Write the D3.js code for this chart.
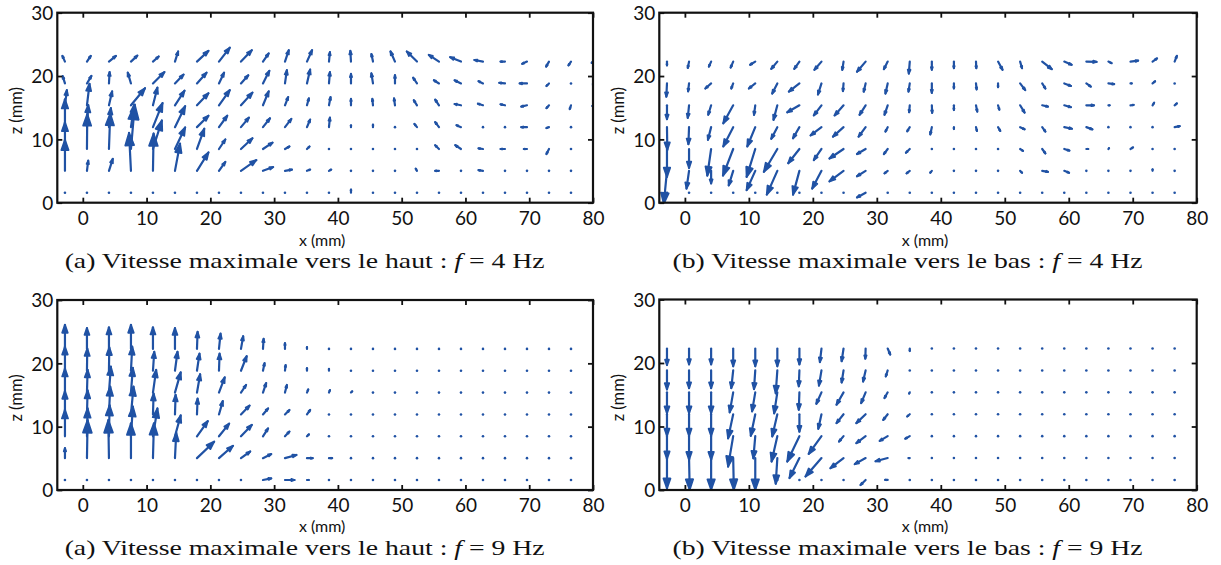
<!DOCTYPE html>
<html><head><meta charset="utf-8">
<script src="https://cdn.jsdelivr.net/npm/d3@7"></script>
<style>body{margin:0;background:#fff}svg{display:block}</style>
</head><body>
<svg id="c" width="1221" height="565"></svg>
<script>
// grid of measurement points (mm)
const xGrid = [-2.8,0.65,4.1,7.55,11.0,14.45,17.9,21.35,24.8,28.25,31.7,35.15,38.6,42.05,45.5,48.95,52.4,55.85,59.3,62.75,66.2,69.65,73.1,76.55,80.0];
const zGrid = [1.58,5.03,8.48,11.93,15.38,18.83,22.28];
const xTicks = [0,10,20,30,40,50,60,70,80];
const zTicks = [0,10,20,30];
const N = null;

// Panel 1 : vers le haut, f = 4 Hz (rows from bottom to top)
const p1U = [
[0,0,0,0,0,0,0,0,0,0,0,0,0,0,0,0,0,0,0,0,0,0,0,0,N],
[0,0.2,0.6,-0.3,0.1,0.8,1.8,1.0,2.4,1.6,1.1,0.5,0.35,0,0,0,-0.2,-0.6,0,-0.7,0,0,0,0,N],
[0,0.05,0.2,0.6,1.4,1.6,1.15,1.0,1.8,1.5,0.7,0.4,0,0,0,0,0,-0.6,-0.9,-0.7,-0.7,-0.5,-0.4,0,N],
[0,0.2,0.3,0.5,1.5,1.6,1.8,1.3,1.25,1.1,1.0,0.5,0.15,0,0,0,-0.4,-0.6,-0.7,0,0,-0.9,-0.4,0,N],
[0.3,0.4,0.5,2.2,0.7,1.5,1.8,1.7,1.8,0.9,0.5,0.3,0.25,0,-0.1,-0.15,-0.5,-0.6,-1.0,-0.8,-0.7,-0.9,-0.4,-0.2,-0.1],
[-0.35,0.7,0.1,-0.5,1.8,1.35,1.5,0.8,1.15,1.0,0.3,0.5,0.15,0,-0.25,0,-0.6,-0.8,-1.0,-0.7,-0.9,-1.15,-0.4,0,0],
[-0.4,0.6,1.1,1.0,0.9,0.5,1.8,1.7,1.7,0.9,0.6,0.8,0.15,-0.1,-0.25,-0.7,-1.6,-1.6,-1.7,-1.35,-0.7,-0.75,-0.45,-0.4,-0.2]];
const p1W = [
[0,0,0,0,0,0,0,0,0,0,0,0,0,0.5,0,0,0,0,0,0,0,0,0,0,N],
[4.9,1.6,1.9,6.0,5.9,4.3,2.9,1.4,1.7,0.6,0.2,0.2,0.2,0.1,0,0,0.35,0,0,0.1,0,0,0,0,N],
[4.2,5.5,5.6,7.0,4.5,3.4,3.2,1.5,1.7,1.0,0.4,0.4,0,0,0,0,0,0.6,0.6,0.1,0,0,-0.8,0,N],
[4.4,3.5,3.0,3.5,3.8,3.3,1.8,1.8,1.5,1.4,1.3,1.2,1.5,0.3,0.4,0,0.5,0.8,0.3,0,0,0,-0.15,0,N],
[2.4,3.4,2.2,2.7,2.8,2.3,1.9,2.4,2.0,2.2,1.3,1.1,1.3,1.0,1.0,1.1,0.8,0.9,0.2,0.25,0.15,-0.2,-0.45,-0.6,-0.1],
[1.15,1.2,1.8,1.7,1.8,1.4,1.7,1.7,1.3,2.0,2.1,2.2,1.8,1.5,1.6,1.3,0.9,0.5,0.5,0.35,0.1,0,-0.4,0,-0.3],
[0.9,0.9,0.9,0.95,0.8,1.6,1.7,2.2,1.8,1.3,1.8,1.8,1.5,1.7,1.2,1.6,1.6,1.05,0.7,0.25,0,-0.35,-0.8,-0.6,-0.2]];

// Panel 2 : vers le bas, f = 4 Hz
const p2U = [
[0,0,0,0,0,0,0,0,0,-1.35,0,0,0,0,0,0,0,0,0,0,0,0,0,0,N],
[-0.5,-0.4,0,-0.7,-1.35,-1.65,-1.0,-1.45,-2.2,-1.35,-0.5,-0.5,-0.25,0,0,0,0.3,0.9,0.75,0,0,0,0,0,N],
[0,0,-0.6,-1.6,-1.35,-2.1,-1.75,-1.2,-2.2,-1.35,-0.6,-0.6,0,0,0,0,0.45,0.5,0.8,0.3,0.1,0.4,0,0,N],
[0.05,-0.1,-0.5,-1.55,-1.25,-0.95,-1.0,-1.7,-1.65,-1.1,-0.35,-0.4,-0.25,0,0.15,0.35,0.7,0.5,1.2,0.95,0,0,0,0.8,N],
[0,-0.2,-0.45,-1.55,-0.2,-0.6,-1.9,-1.2,-1.4,-0.95,-0.5,-0.1,0.05,0,0.2,0.2,0.7,0.9,1.05,1.2,0.2,0.5,0.25,0.35,N],
[-0.1,-0.15,-0.9,-0.3,-1.0,-0.8,-1.65,-0.55,-0.1,-0.3,-0.35,-0.2,0,0,0.1,0,0.8,0.5,1.05,0.7,0.9,0.2,0.4,0,N],
[0,-0.2,-0.35,-0.4,-0.8,-0.95,-0.8,-1.1,-0.2,-1.35,-0.6,-0.15,0,0,0.05,0.7,0.3,1.5,1.15,1.6,0.5,1.2,0.7,0.35,N]];
const p2W = [
[0,0,0,0,0,0,0,0,0,-0.75,0,0,0,0,0,0,0,0,0,0,0,0,0,0,N],
[-5.2,-2.8,-2.0,-2.3,-3.05,-3.75,-3.75,-2.8,-1.65,-0.85,-0.4,-0.4,-0.3,0,0,0,-0.3,-0.15,-0.3,0,0,0,0.25,0,N],
[-4.4,-3.0,-4.2,-4.2,-4.4,-3.6,-2.25,-1.75,-1.5,-0.8,-0.8,-0.6,0,0,0,0,-0.3,-0.7,-0.25,0,0.15,0.25,0,0,N],
[-3.6,-2.7,-2.0,-3.05,-3.05,-1.85,-1.75,-1.3,-1.5,-1.5,-0.7,-0.65,-1.15,-0.3,-0.6,-0.6,-0.35,-0.7,-0.25,-0.35,0,0,0,0.15,N],
[-2.2,-2.0,-1.5,-2.85,-1.5,-2.3,-1.1,-1.6,-1.6,-1.5,-1.5,-1.1,-1.2,-0.75,-1.0,-0.7,-1.15,-0.2,-0.3,0,0,0.05,0.4,0.3,N],
[-2.1,-1.25,-0.8,-0.8,-0.8,-1.6,-1.3,-1.75,-1.2,-1.3,-1.6,-1.3,-1.5,-0.8,-0.95,-0.6,-1.05,-0.8,-0.4,-0.5,-0.1,0,0.35,0,N],
[-0.6,-1.0,-0.8,-0.95,-0.5,-1.15,-1.15,-1.3,-1.3,-1.6,-1.2,-1.9,-1.3,-1.05,-1.05,-1.3,-1.05,-1.2,-0.5,-0.05,-0.25,0.15,0.5,0.9,N]];

// Panel 3 : vers le haut, f = 9 Hz
const p3U = [
[0,0,0,0,0,0,0,0,0,1.3,1.5,0.3,0,0,0,0,0,0,0,0,0,0,0,0,N],
[0,0.1,-0.1,0,0.15,0.2,2.7,2.2,1.45,1.3,1.8,0.9,0.5,0,0,0,0,0,0,0,0,0,0,0,N],
[0,0.1,0.1,0.3,0.7,0.9,1.7,1.6,1.7,0.8,0.7,0.3,0,0,0,0,0,0,0,0,0,0,0,0,N],
[0,0.1,0.2,0.4,0.1,0.1,0.1,0.6,1.35,0.8,0.7,0.5,0,0,0,0,0,0,0,0,0,0,0,0,N],
[0,0.1,0.3,0.3,0.5,0.9,0.5,0.9,0.8,0.5,0.3,0.2,0.15,0.2,0,0,0,0,0,0,0,0,0,0,N],
[0,0.05,0.05,0.2,0.2,0.4,0.4,0.1,0.9,0.25,0.1,0,0,0,0,0,0,0,0,0,0,0,0,0,N],
[0,0,0,0,0,0,0.1,0.25,0.35,0.1,0,0,0,0,0,0,0,0,0,0,0,0,0,0,N]];
const p3W = [
[0,0,0,0,0,0,0,0,0,0.25,0,0,0,0,0,0,0,0,0,0,0,0,0,0,N],
[1.6,6.0,6.0,5.5,5.5,4.0,2.6,1.95,1.05,0.65,0.5,0,0,0,0,0,0,0,0,0,0,0,0,0,N],
[4.2,4.4,4.9,4.7,4.4,3.3,2.4,2.0,1.8,1.25,0.75,0.3,0,0,0,0,0,0,0,0,0,0,0,0,N],
[3.7,3.8,4.4,4.4,3.3,3.1,2.5,2.1,1.4,0.95,0.7,0.7,0,0,0,0,0,0,0,0,0,0,0,0,N],
[3.8,3.6,4.1,3.9,3.6,3.2,2.9,2.4,1.2,1.5,1.2,0.5,0.4,0.2,0,0,0,0,0,0,0,0,0,0,N],
[3.8,3.5,3.7,3.8,3.0,3.0,2.7,2.7,2.3,1.2,0.9,0.4,0.3,0,0,0,0,0,0,0,0,0,0,0,N],
[3.8,3.3,3.4,3.8,3.4,3.3,2.7,2.4,2.0,1.6,0.9,0.3,0,0,0,0,0,0,0,0,0,0,0,0,N]];

// Panel 4 : vers le bas, f = 9 Hz
const p4U = [
[0,0,0,0,0,0,0,0,0,-0.8,-0.4,0,0,0,0,0,0,0,0,0,0,0,0,0,N],
[0,0.1,0,0.1,0,-0.25,-1.55,-2.5,-2.05,-1.7,-1.9,-0.2,0,0,0,0,0,0,0,0,0,0,0,0,N],
[0,0,0,-0.8,-0.3,-0.9,-1.9,-2.0,-0.7,-1.45,-1.25,-0.7,0,0,0,0,0,0,0,0,0,0,0,0,N],
[0,0,0,-0.8,-0.7,-0.8,0,-0.5,-1.1,-1.45,-0.7,-0.4,0,0,0,0,0,0,0,0,0,0,0,0,N],
[0,0,0,-0.55,-0.5,-0.5,-0.1,-0.8,-1.1,-0.7,-0.5,-0.1,0,0,0,0,0,0,0,0,0,0,0,0,N],
[0,0,0,-0.3,-0.2,-0.25,-0.1,-0.4,-0.3,-0.4,-0.3,0,0,0,0,0,0,0,0,0,0,0,0,0,N],
[0,0,0,0,0,0,0,-0.25,-0.3,-0.05,0.4,0,0,0,0,0,0,0,0,0,0,0,0,0,N]];
const p4W = [
[0,0,0,0,0,0,0,0,0,-0.8,0,0,0,0,0,0,0,0,0,0,0,0,0,0,N],
[-4.8,-5.0,-5.0,-5.0,-5.0,-4.05,-3.15,-2.9,-1.6,-0.95,-0.5,0,0,0,0,0,0,0,0,0,0,0,0,0,N],
[-3.6,-3.7,-3.7,-4.8,-3.5,-4.0,-4.0,-2.8,-0.85,-1.1,-0.75,-0.4,0,0,0,0,0,0,0,0,0,0,0,0,N],
[-3.4,-3.4,-3.4,-3.8,-3.4,-3.5,-2.75,-2.3,-1.4,-1.4,-0.9,-0.35,0,0,0,0,0,0,0,0,0,0,0,0,N],
[-3.3,-3.3,-3.3,-3.15,-3.0,-3.3,-2.75,-1.8,-1.95,-1.7,-0.9,-0.2,0,0,0,0,0,0,0,0,0,0,0,0,N],
[-3.0,-2.8,-2.8,-2.8,-2.95,-3.6,-2.5,-2.4,-1.9,-1.75,-0.95,0,0,0,0,0,0,0,0,0,0,0,0,0,N],
[-2.6,-2.5,-2.5,-2.8,-2.8,-2.8,-2.5,-2.15,-2.0,-1.6,-0.95,-0.4,0,0,0,0,0,0,0,0,0,0,0,0,N]];

const captionLabels = ["(a)", "(b)", "(a)", "(b)"];
const directions = ["haut", "bas", "haut", "bas"];
const frequencies = ["4", "4", "9", "9"];

// ---------- layout ----------
const COLOR = "#2052a4";
const boxes = [
  {l:57.3, r:593,   t:12.7, b:202.7, U:p1U, W:p1W, tk:22.5, xl:43.5, cap:268},
  {l:659.3, r:1196.7, t:12.7, b:202.7, U:p2U, W:p2W, tk:22.5, xl:43.5, cap:268},
  {l:57.3, r:593,   t:300,  b:490,   U:p3U, W:p3W, tk:21.5, xl:42, cap:555},
  {l:659.3, r:1196.7, t:299.5, b:490, U:p4U, W:p4W, tk:21.5, xl:42, cap:555}
];
const capLen = [480, 470, 480, 470];

const svg = d3.select("#c");
const defs = svg.append("defs");

boxes.forEach((bx, k) => {
  const x = d3.scaleLinear().domain([-4, 80]).range([bx.l, bx.r]);
  const y = d3.scaleLinear().domain([0, 30]).range([bx.b, bx.t]);
  const g = svg.append("g");
  defs.append("clipPath").attr("id", "clip" + k)
    .append("rect").attr("x", bx.l).attr("y", bx.t).attr("width", bx.r - bx.l).attr("height", bx.b - bx.t);

  // vectors
  const vecs = [];
  zGrid.forEach((zv, i) => xGrid.forEach((xv, j) => {
    const u = bx.U[i][j], w = bx.W[i][j];
    if (u === null || w === null) return;
    vecs.push({x0: x(xv), y0: y(zv), x1: x(xv + u), y1: y(zv + w)});
  }));
  const ga = g.append("g").attr("clip-path", `url(#clip${k})`);
  vecs.forEach(v => {
    const dx = v.x1 - v.x0, dy = v.y1 - v.y0;
    const L = Math.hypot(dx, dy);
    if (L < 0.8) {
      ga.append("circle").attr("cx", v.x0).attr("cy", v.y0).attr("r", 1.3).attr("fill", COLOR);
      return;
    }
    const a = 0.33, b = 0.35;
    const h1x = v.x1 - a * (dx + b * dy), h1y = v.y1 - a * (dy - b * dx);
    const h2x = v.x1 - a * (dx - b * dy), h2y = v.y1 - a * (dy + b * dx);
    ga.append("path")
      .attr("d", `M${v.x0},${v.y0}L${v.x1},${v.y1}`)
      .attr("stroke", COLOR).attr("stroke-width", 2.2).attr("stroke-linecap", "round").attr("fill", "none");
    ga.append("path")
      .attr("d", `M${h1x},${h1y}L${v.x1},${v.y1}L${h2x},${h2y}Z`)
      .attr("stroke", COLOR).attr("stroke-width", 1.8).attr("stroke-linejoin", "round").attr("fill", COLOR);
  });

  // axes (inward ticks)
  const fontTick = "Lato, 'Open Sans', sans-serif";
  const ax = g.append("g").attr("transform", `translate(0,${bx.b})`)
    .call(d3.axisBottom(x).tickValues(xTicks).tickSize(-5).tickSizeOuter(0).tickPadding(10).tickFormat(d3.format("d")));
  g.append("g").attr("transform", `translate(0,${bx.t})`)
    .call(d3.axisTop(x).tickValues(xTicks).tickSize(-5).tickSizeOuter(0).tickFormat(""));
  const ay = g.append("g").attr("transform", `translate(${bx.l},0)`)
    .call(d3.axisLeft(y).tickValues(zTicks).tickSize(-5).tickSizeOuter(0).tickPadding(4).tickFormat(d3.format("d")));
  g.append("g").attr("transform", `translate(${bx.r},0)`)
    .call(d3.axisRight(y).tickValues(zTicks).tickSize(-5).tickSizeOuter(0).tickFormat(""));
  g.selectAll(".domain").remove();
  g.selectAll(".tick line").attr("stroke", "#111").attr("stroke-width", 1.8);
  g.selectAll(".tick text").attr("fill", "#111").style("font-family", fontTick).style("font-size", "19px");
  ax.selectAll(".tick text").attr("dy", null).attr("y", bx.tk);
  ay.selectAll(".tick text").attr("dy", null).attr("y", 6.8);

  // frame
  g.append("rect").attr("x", bx.l).attr("y", bx.t).attr("width", bx.r - bx.l).attr("height", bx.b - bx.t)
    .attr("fill", "none").attr("stroke", "#111").attr("stroke-width", 2.2);

  // axis titles
  const cx = (bx.l + bx.r) / 2, cy = (bx.t + bx.b) / 2;
  g.append("text").attr("x", cx - 3).attr("y", bx.b + bx.xl).attr("text-anchor", "middle")
    .style("font-family", fontTick).style("font-size", "16px").attr("fill", "#111").text("x (mm)");
  g.append("text").attr("transform", `translate(${bx.l - 35.8},${cy + 3}) rotate(-90)`).attr("text-anchor", "middle")
    .style("font-family", fontTick).style("font-size", "16.5px").attr("fill", "#111").text("z (mm)");

  // caption
  const t = svg.append("text").attr("x", cx - 20.5).attr("y", bx.cap).attr("text-anchor", "middle")
    .style("font-family", "'Liberation Serif', 'Times New Roman', serif").style("font-size", "21px").attr("fill", "#111")
    .attr("textLength", capLen[k]).attr("lengthAdjust", "spacingAndGlyphs");
  t.append("tspan").text(`${captionLabels[k]} Vitesse maximale vers le ${directions[k]} :  `);
  t.append("tspan").style("font-style", "italic").text("f");
  t.append("tspan").text(`  =  ${frequencies[k]} Hz`);
});
</script>
</body></html>
